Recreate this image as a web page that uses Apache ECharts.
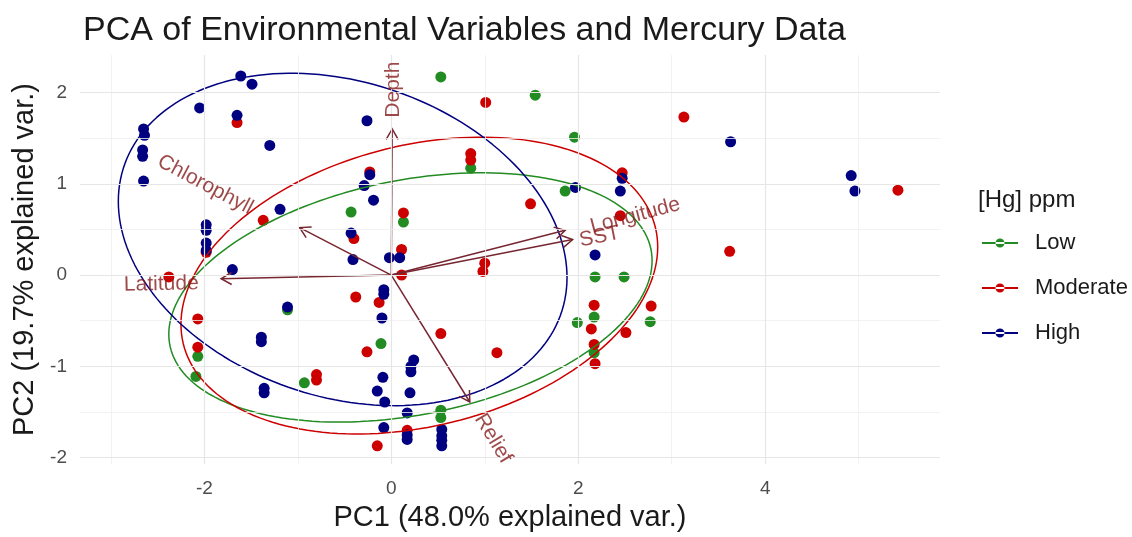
<!DOCTYPE html>
<html>
<head>
<meta charset="utf-8">
<script src="https://cdn.jsdelivr.net/npm/echarts@6/dist/echarts.min.js"></script>
<style>
  html, body { margin: 0; padding: 0; background: #ffffff; }
  #chart { width: 1132px; height: 537px; }
</style>
</head>
<body>
<div id="chart"></div>
<script>
// Mercury concentration groups and their colours
const groups = ['Low', 'Moderate', 'High'];
const groupColors = ['#228B22', '#CD0000', '#000080'];

// PC1 / PC2 scores per sample, by [Hg] group
const lowScores = [
  [0.53, 2.17], [1.54, 1.97], [1.96, 1.51], [0.85, 1.17], [1.86, 0.92],
  [0.13, 0.58], [-0.43, 0.69], [2.18, -0.02], [2.49, -0.02], [-2.07, -0.89],
  [-2.09, -1.11], [-1.11, -0.38], [-0.93, -1.18], [-0.11, -0.75], [0.53, -1.48],
  [0.53, -1.56], [2.17, -0.46], [1.99, -0.52], [2.77, -0.51], [2.17, -0.85]
];
const moderateScores = [
  [-1.65, 1.67], [1.01, 1.89], [3.13, 1.73], [0.85, 1.33], [0.85, 1.26],
  [2.47, 1.12], [1.49, 0.78], [2.45, 0.65], [0.13, 0.68], [-1.37, 0.60],
  [-0.40, 0.40], [-0.23, 1.13], [0.11, 0.28], [1.00, 0.13], [0.98, 0.04],
  [0.11, 0.00], [3.62, 0.26], [5.42, 0.93], [-2.38, -0.02], [-1.98, 0.25],
  [-2.07, -0.48], [-2.07, -0.79], [-0.80, -1.09], [-0.80, -1.15], [-0.38, -0.24],
  [-0.13, -0.30], [-0.26, -0.84], [-0.15, -1.87], [0.53, -0.64], [1.13, -0.85],
  [0.17, -1.70], [2.17, -0.33], [2.14, -0.59], [2.78, -0.34], [2.51, -0.63],
  [2.17, -0.76], [2.18, -0.97]
];
const highScores = [
  [-1.61, 2.18], [-1.49, 2.09], [-2.05, 1.83], [-1.65, 1.75], [-2.65, 1.60],
  [-2.64, 1.53], [-2.66, 1.37], [-2.66, 1.30], [-1.30, 1.42], [-2.65, 1.03],
  [-0.26, 1.69], [-0.23, 1.10], [-0.29, 0.98], [-0.19, 0.82], [-1.19, 0.72],
  [-0.43, 0.46], [-1.98, 0.55], [-1.98, 0.49], [-1.98, 0.35], [-1.98, 0.27],
  [-0.41, 0.17], [-1.70, 0.06], [-0.02, 0.19], [0.09, 0.19], [2.47, 1.06],
  [2.45, 0.92], [1.97, 0.96], [2.18, 0.22], [3.63, 1.46], [4.92, 1.09],
  [4.96, 0.92], [-1.11, -0.35], [-1.39, -0.68], [-1.39, -0.73], [-1.36, -1.24],
  [-1.36, -1.29], [-0.08, -0.16], [-0.08, -0.21], [-0.10, -0.47], [-0.09, -1.12],
  [-0.15, -1.27], [-0.07, -1.39], [-0.08, -1.67], [0.24, -0.93], [0.21, -1.00],
  [0.21, -1.06], [0.20, -1.29], [0.17, -1.51], [0.17, -1.75], [0.17, -1.80],
  [0.54, -1.69], [0.54, -1.76], [0.54, -1.81], [0.54, -1.87]
];

// Normal-probability ellipses per group: [centreX, centreY, halfWidth, halfHeight, correlation]
const lowEllipse = [0.205, -0.245, 2.585, 1.365, 0.295];
const moderateEllipse = [0.30, -0.115, 2.55, 1.625, 0.26];
const highEllipse = [-0.52, 0.39, 2.40, 1.82, -0.229];

// Variable loadings (arrow tips) and label placement [x, y, angle]
const loadingNames = ['Depth', 'Chlorophyll', 'Latitude', 'Longitude', 'SST', 'Relief'];
const loadingTips = [[0.01, 1.60], [-0.98, 0.52], [-1.82, -0.04], [1.86, 0.49], [1.94, 0.39], [0.84, -1.39]];
const loadingLabels = [[0.02, 2.03, 90], [-1.99, 0.99, -28], [-2.46, -0.10, 1.3], [2.61, 0.65, 14.8], [2.23, 0.42, 11.3], [1.09, -1.79, -58.9]];

// Axis ticks and grid positions
const xTickValues = [-2, 0, 2, 4];
const yTickValues = [-2, -1, 0, 1, 2];
const xGridMajor = [-2, 0, 2, 4];
const xGridMinor = [-3, -1, 1, 3, 5];
const yGridMajor = [-2, -1, 0, 1, 2];
const yGridMinor = [-1.5, -0.5, 0.5, 1.5];

const FONT = '"Liberation Sans", Arial, sans-serif';

function ellipsePath(p) {
  const [cx, cy, hw, hh, rho] = p;
  const s = Math.sqrt(1 - rho * rho);
  const pts = [];
  for (let i = 0; i <= 180; i++) {
    const t = (i / 180) * Math.PI * 2;
    pts.push([cx + hw * Math.cos(t), cy + hh * (rho * Math.cos(t) + s * Math.sin(t))]);
  }
  return pts;
}

const scoreSets = [lowScores, moderateScores, highScores];
const ellipseSets = [lowEllipse, moderateEllipse, highEllipse];

const gridLineData = []
  .concat(xGridMinor.map(v => ({ xAxis: v, lineStyle: { color: '#efefef', width: 0.8 } })))
  .concat(yGridMinor.map(v => ({ yAxis: v, lineStyle: { color: '#efefef', width: 0.8 } })))
  .concat(xGridMajor.map(v => ({ xAxis: v, lineStyle: { color: '#e6e6e6', width: 1.2 } })))
  .concat(yGridMajor.map(v => ({ yAxis: v, lineStyle: { color: '#e6e6e6', width: 1.2 } })));

const series = [];

// panel grid lines
series.push({
  type: 'scatter',
  name: 'grid',
  data: [],
  silent: true,
  z: 0,
  markLine: {
    silent: true,
    symbol: ['none', 'none'],
    label: { show: false },
    lineStyle: { type: 'solid' },
    emphasis: { disabled: true },
    data: gridLineData
  }
});

// sample scores
groups.forEach((g, i) => {
  series.push({
    type: 'scatter',
    name: g,
    data: scoreSets[i],
    symbolSize: 11,
    itemStyle: { color: groupColors[i], opacity: 1 },
    z: 2
  });
});

// group ellipses
groups.forEach((g, i) => {
  series.push({
    type: 'line',
    name: g,
    data: ellipsePath(ellipseSets[i]),
    showSymbol: false,
    symbol: 'none',
    smooth: false,
    lineStyle: { color: groupColors[i], width: 1.5 },
    itemStyle: { color: groupColors[i] },
    z: 3,
    silent: true
  });
});

// loading arrows
series.push({
  type: 'custom',
  name: 'loadings',
  data: loadingTips,
  silent: true,
  z: 4,
  renderItem: function (params, api) {
    const o = api.coord([0, 0]);
    const e = api.coord([api.value(0), api.value(1)]);
    const ang = Math.atan2(e[1] - o[1], e[0] - o[0]);
    const L = 12, spread = Math.PI / 6;
    const h1 = [e[0] - L * Math.cos(ang - spread), e[1] - L * Math.sin(ang - spread)];
    const h2 = [e[0] - L * Math.cos(ang + spread), e[1] - L * Math.sin(ang + spread)];
    const style = { stroke: '#772630', lineWidth: 1.5, fill: null };
    return {
      type: 'group',
      children: [
        { type: 'line', shape: { x1: o[0], y1: o[1], x2: e[0], y2: e[1] }, style: style },
        { type: 'polyline', shape: { points: [h1, e, h2] }, style: style }
      ]
    };
  }
});

// loading labels
series.push({
  type: 'scatter',
  name: 'loadingNames',
  symbolSize: 0,
  silent: true,
  z: 5,
  data: loadingNames.map((n, i) => ({
    value: [loadingLabels[i][0], loadingLabels[i][1]],
    name: n,
    label: { rotate: loadingLabels[i][2] }
  })),
  label: {
    show: true,
    position: 'inside',
    formatter: '{b}',
    color: '#861c1c',
    fontSize: 21,
    fontFamily: FONT,
    align: 'center',
    verticalAlign: 'middle'
  }
});

const chart = echarts.init(document.getElementById('chart'), null, { renderer: 'canvas' });
chart.setOption({
  animation: false,
  backgroundColor: '#ffffff',
  title: [
    {
      text: 'PCA of Environmental Variables and Mercury Data',
      left: 78, top: 9,
      textStyle: { fontFamily: FONT, fontSize: 34, fontWeight: 'normal', color: '#1a1a1a' }
    },
    {
      text: '[Hg] ppm',
      left: 973, top: 183,
      textStyle: { fontFamily: FONT, fontSize: 24, fontWeight: 'normal', color: '#1a1a1a' }
    }
  ],
  legend: {
    data: groups,
    orient: 'vertical',
    left: 977, top: 227,
    itemWidth: 36, itemHeight: 9,
    itemGap: 23,
    icon: 'path://M0,3.6h36v1.8h-36z M13.5,4.5a4.5,4.5 0 1,0 9,0a4.5,4.5 0 1,0 -9,0z',
    textStyle: { fontFamily: FONT, fontSize: 22, color: '#1a1a1a', padding: [0, 0, 0, 12] },
    selectedMode: false
  },
  grid: { left: 80, top: 55, width: 860, height: 415, containLabel: false },
  xAxis: {
    type: 'value',
    min: -3.33, max: 5.87,
    name: 'PC1 (48.0% explained var.)',
    nameLocation: 'middle',
    nameGap: 38,
    nameTextStyle: { fontFamily: FONT, fontSize: 29, color: '#1a1a1a' },
    axisLine: { show: false },
    axisTick: { show: false },
    splitLine: { show: false },
    axisLabel: { customValues: xTickValues, color: '#4d4d4d', fontFamily: FONT, fontSize: 19, margin: 15 }
  },
  yAxis: {
    type: 'value',
    min: -2.07, max: 2.41,
    name: 'PC2 (19.7% explained var.)',
    nameLocation: 'middle',
    nameGap: 35,
    nameTextStyle: { fontFamily: FONT, fontSize: 29, color: '#1a1a1a' },
    axisLine: { show: false },
    axisTick: { show: false },
    splitLine: { show: false },
    axisLabel: { customValues: yTickValues, color: '#4d4d4d', fontFamily: FONT, fontSize: 19, margin: 13 }
  },
  series: series
});
</script>
</body>
</html>
